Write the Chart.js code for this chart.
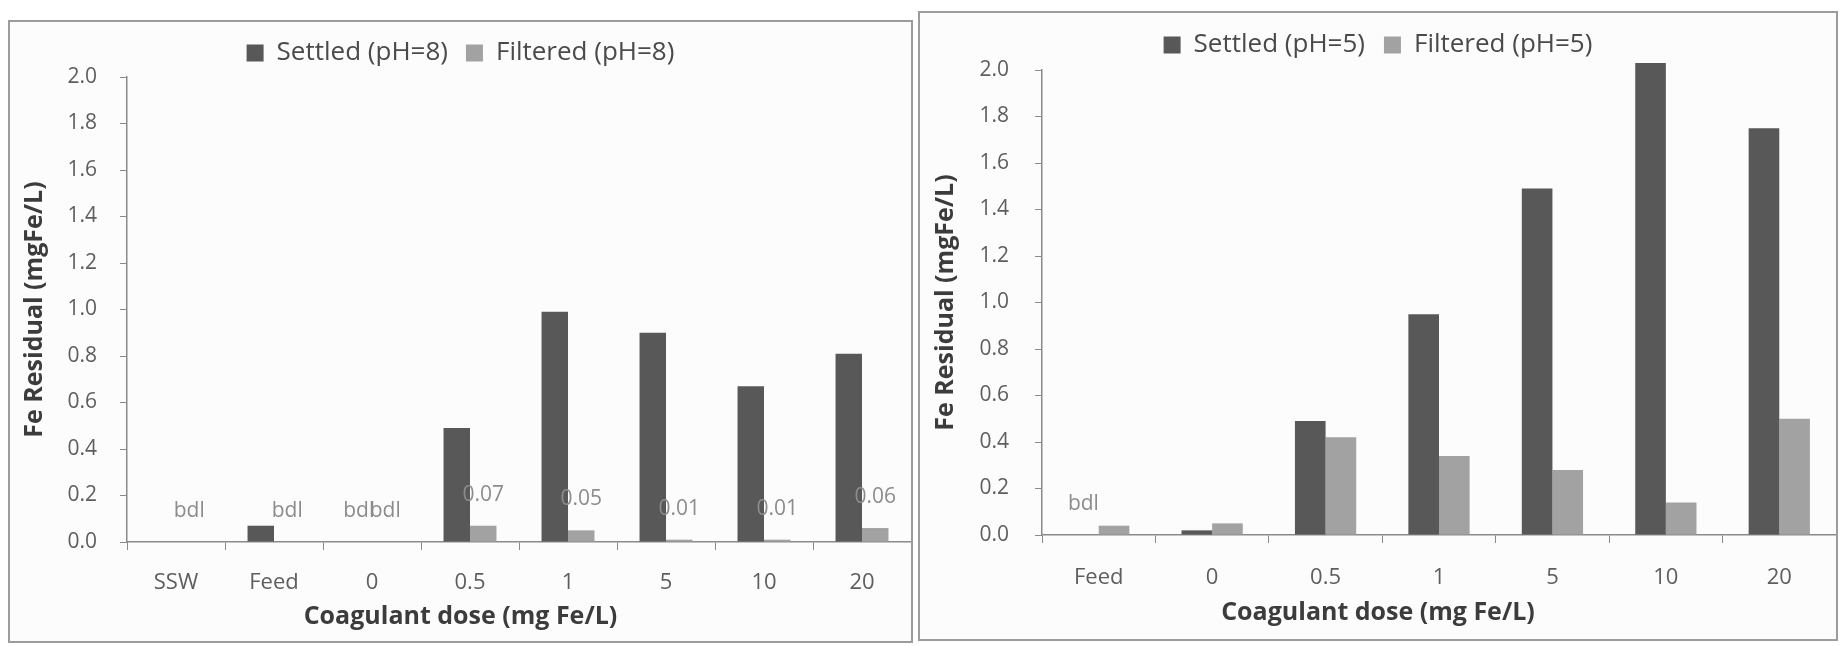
<!DOCTYPE html>
<html>
<head>
<meta charset="utf-8">
<script src="https://cdn.jsdelivr.net/npm/chart.js@4.4.1/dist/chart.umd.min.js"></script>
<style>
  html, body { margin: 0; padding: 0; background: #fff; }
  body { width: 1843px; height: 646px; position: relative; overflow: hidden; }
  .panel { position: absolute; box-sizing: border-box; border: 2px solid #9c9c9c; background: #fcfcfc; }
  #panelLeft { left: 8px; top: 20px; width: 905px; height: 623px; }
  #panelRight { left: 918px; top: 11px; width: 920px; height: 630px; }
  canvas { display: block; }
</style>
</head>
<body>
<div class="panel" id="panelLeft"><canvas id="chartLeft" width="901" height="619"></canvas></div>
<div class="panel" id="panelRight"><canvas id="chartRight" width="916" height="626"></canvas></div>
<script>
// left panel, pH 8
const doseLeft = ["SSW", "Feed", "0", "0.5", "1", "5", "10", "20"];
const settledPH8 = [null, 0.07, 0, 0.49, 0.99, 0.90, 0.67, 0.81];
const filteredPH8 = [0, 0, 0, 0.07, 0.05, 0.01, 0.01, 0.06];
const settledPH8Labels = ["", "", "bdl", "", "", "", "", ""];
const filteredPH8Labels = ["bdl", "bdl", "bdl", "0.07", "0.05", "0.01", "0.01", "0.06"];

// right panel, pH 5
const doseRight = ["Feed", "0", "0.5", "1", "5", "10", "20"];
const settledPH5 = [0, 0.02, 0.49, 0.95, 1.49, 2.03, 1.75];
const filteredPH5 = [0.04, 0.05, 0.42, 0.34, 0.28, 0.14, 0.50];
const settledPH5Labels = ["bdl", "", "", "", "", "", ""];
const filteredPH5Labels = ["", "", "", "", "", "", ""];

const FONT = '"Open Sans", "DejaVu Sans", sans-serif';
const SETTLED = "#585858";
const FILTERED = "#a2a2a2";
const AXIS = "#8a8a8a";

// forces legend block to a fixed height so the plot area lands where it should
const legendHeightPlugin = {
    id: "legendHeight",
    beforeLayout(chart, args, opts) {
        let lg = chart.legend;
        if (lg && !lg._fixed) {
            let fit = lg.fit;
            lg.fit = function () {
                fit.call(this);
                this.height = opts.height;
            };
            lg._fixed = true;
        }
    }
};

const valueLabelPlugin = {
    id: "valueLabels",
    afterDatasetsDraw(chart, args, opts) {
        let ctx = chart.ctx;
        ctx.save();
        ctx.font = "21px " + FONT;
        ctx.fillStyle = "#8c8c8c";
        ctx.textAlign = "center";
        ctx.textBaseline = "middle";
        chart.data.datasets.forEach((ds, di) => {
            let meta = chart.getDatasetMeta(di);
            (ds.valueLabels || []).forEach((txt, i) => {
                if (!txt) return;
                let bar = meta.data[i];
                ctx.fillText(txt, bar.x, bar.y - opts.offset);
            });
        });
        ctx.restore();
    }
};

const xTitlePlugin = {
    id: "xTitle",
    afterDraw(chart, args, opts) {
        let ctx = chart.ctx;
        ctx.save();
        ctx.font = "bold 25px " + FONT;
        ctx.fillStyle = "#3c3c3c";
        ctx.textAlign = "center";
        ctx.textBaseline = "middle";
        ctx.fillText(opts.text, chart.width / 2, chart.chartArea.bottom + opts.offset);
        ctx.restore();
    }
};

function makeChart(id, cfg) {
    return new Chart(document.getElementById(id).getContext("2d"), {
        type: "bar",
        data: {
            labels: cfg.labels,
            datasets: [{
                label: cfg.names[0],
                data: cfg.settled,
                valueLabels: cfg.settledLabels,
                backgroundColor: SETTLED,
                borderWidth: 0,
                clip: false,
                categoryPercentage: 0.54,
                barPercentage: 1.0
            }, {
                label: cfg.names[1],
                data: cfg.filtered,
                valueLabels: cfg.filteredLabels,
                backgroundColor: FILTERED,
                borderWidth: 0,
                clip: false,
                categoryPercentage: 0.54,
                barPercentage: 1.0
            }]
        },
        options: {
            responsive: false,
            animation: false,
            events: [],
            layout: { padding: 0 },
            plugins: {
                legend: {
                    position: "top",
                    labels: {
                        color: "#4a4a4a",
                        font: { family: FONT, size: 26 },
                        boxWidth: 17,
                        boxHeight: 17,
                        padding: cfg.legendPad
                    }
                },
                tooltip: { enabled: false },
                legendHeight: { height: cfg.top },
                valueLabels: { offset: 31 },
                xTitle: { text: "Coagulant dose (mg Fe/L)", offset: cfg.xTitleOffset }
            },
            scales: {
                x: {
                    afterFit: s => { s.height = cfg.xHeight; },
                    border: { color: AXIS, width: 1.5 },
                    grid: { drawOnChartArea: false, color: AXIS, tickLength: 8, offset: true },
                    ticks: { color: "#5e5e5e", font: { family: FONT, size: 22 }, padding: cfg.xPad, maxRotation: 0 }
                },
                y: {
                    min: 0,
                    max: 2,
                    afterFit: s => { s.width = cfg.yWidth; },
                    border: { color: AXIS, width: 1.5 },
                    grid: { drawOnChartArea: false, color: AXIS, tickLength: 7 },
                    ticks: {
                        stepSize: 0.2,
                        color: "#5e5e5e",
                        font: { family: FONT, size: 21 },
                        padding: cfg.yPad,
                        callback: v => v.toFixed(1)
                    },
                    title: {
                        display: true,
                        text: "Fe Residual (mgFe/L)",
                        color: "#3c3c3c",
                        font: { family: FONT, size: 25, weight: "bold" },
                        padding: { top: cfg.yTitlePad, bottom: 0 }
                    }
                }
            }
        },
        plugins: [legendHeightPlugin, valueLabelPlugin, xTitlePlugin]
    });
}

makeChart("chartLeft", {
    labels: doseLeft,
    names: ["Settled (pH=8)", "Filtered (pH=8)"],
    settled: settledPH8,
    filtered: filteredPH8,
    settledLabels: settledPH8Labels,
    filteredLabels: filteredPH8Labels,
    top: 55,
    legendPad: 18,
    xHeight: 99,
    yWidth: 117,
    yPad: 23,
    xPad: 20,
    yTitlePad: 10,
    xTitleOffset: 75
});

makeChart("chartRight", {
    labels: doseRight,
    names: ["Settled (pH=5)", "Filtered (pH=5)"],
    settled: settledPH5,
    filtered: filteredPH5,
    settledLabels: settledPH5Labels,
    filteredLabels: filteredPH5Labels,
    top: 57,
    legendPad: 19,
    xHeight: 104,
    yWidth: 122,
    yPad: 26,
    xPad: 22,
    yTitlePad: 11,
    xTitleOffset: 78
});
</script>
</body>
</html>
